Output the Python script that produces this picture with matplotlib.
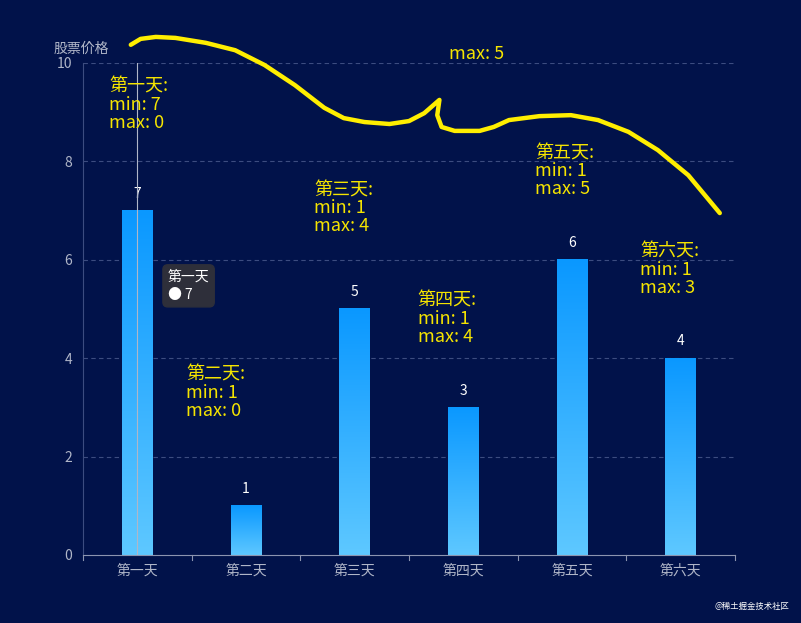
import numpy as np
import matplotlib.pyplot as plt
from matplotlib import font_manager
from matplotlib.colors import LinearSegmentedColormap

cjk = [f.name for f in font_manager.fontManager.ttflist if 'CJK' in f.name]
pref = [n for n in ['Noto Sans CJK SC', 'Noto Sans CJK JP', 'Noto Sans CJK TC'] if n in cjk]
plt.rcParams['font.family'] = 'sans-serif'
plt.rcParams['font.sans-serif'] = pref + cjk[:1] + ['DejaVu Sans']

# === Data ===
days = ["第一天", "第二天", "第三天", "第四天", "第五天", "第六天"]
values = [7, 1, 5, 3, 6, 4]
mins = [7, 1, 1, 1, 1, 1]
maxs = [0, 0, 4, 4, 5, 3]
# annotation anchors (category x, value y)
note_x = [-0.26, 0.45, 1.63, 2.58, 3.66, 4.63]
note_y = [9.7, 3.85, 7.6, 5.35, 8.35, 6.35]
# freehand yellow stroke (category x, value y)
curve_x = [-0.06, 0.03, 0.17, 0.35, 0.63, 0.9, 1.17, 1.45, 1.72, 1.9, 2.09,
           2.32, 2.5, 2.64, 2.78, 2.76, 2.8, 2.92, 3.15, 3.28, 3.42, 3.7,
           3.99, 4.24, 4.52, 4.79, 5.07, 5.36]
curve_y = [10.37, 10.49, 10.53, 10.51, 10.41, 10.26, 9.96, 9.55, 9.09, 8.88,
           8.8, 8.76, 8.82, 8.98, 9.25, 8.94, 8.7, 8.62, 8.62, 8.7, 8.84,
           8.92, 8.94, 8.84, 8.6, 8.23, 7.72, 6.95]

bg = "#01124a"
fig = plt.figure(figsize=(8.01, 6.23), dpi=100, facecolor=bg)
ax = fig.add_axes([83/801, 1-555/623, 652/801, 492/623], facecolor=bg)

# gradient bars
cmap = LinearSegmentedColormap.from_list("bar", ["#5ec8ff", "#0a98ff"])
grad = np.linspace(0, 1, 256).reshape(-1, 1)
w = 0.28
for i, v in enumerate(values):
    ax.imshow(grad, cmap=cmap, origin='lower', aspect='auto',
              extent=(i - w/2, i + w/2, 0, v), zorder=2)
    ax.text(i, v + 0.2, str(v), color='white', ha='center', va='bottom', fontsize=10, zorder=3)

ax.set_xlim(-0.5, 5.5)
ax.set_ylim(0, 10)

# grid
for y in [2, 4, 6, 8, 10]:
    ax.axhline(y, color="#3c4c80", linestyle=(0, (4, 3)), linewidth=0.8, zorder=1)

for s in ['top', 'right']:
    ax.spines[s].set_visible(False)
ax.spines['left'].set_color('#3c4c80')
ax.spines['bottom'].set_color('#8c94b0')
ax.set_yticks([0, 2, 4, 6, 8, 10])
ax.tick_params(axis='y', colors='#b0b6c8', length=0, labelsize=10, pad=8)
ax.set_xticks(range(len(days)))
ax.set_xticklabels(days)
ax.tick_params(axis='x', colors='#b0b6c8', length=0, labelsize=10, pad=6)
for b in np.arange(-0.5, 6, 1):
    ax.plot([b, b], [0, -0.1], color='#8c94b0', lw=0.8, clip_on=False)

ax.text(-0.77, 10.15, "股票价格", color='#b0b6c8', fontsize=10, ha='left', va='bottom')

# hover line + tooltip
ax.plot([0, 0], [0, 10], color='#b0b6c8', lw=0.8, zorder=4)
ax.text(0.28, 5.8, "第一天\n● 7", color='white', fontsize=10, va='top', linespacing=1.4,
        bbox=dict(boxstyle='round,pad=0.35', fc='#2e2f3a', ec='#2e2f3a'), zorder=5)

# annotations
for i in range(len(days)):
    ax.text(note_x[i], note_y[i], f"{days[i]}:\nmin: {mins[i]}\nmax: {maxs[i]}",
            color='#f5e400', fontsize=13, va='top', ha='left', linespacing=1.0, zorder=5)
ax.text(2.87, 10.0, "max: 5", color='#f5e400', fontsize=13, va='bottom', zorder=5)

ax.plot(curve_x, curve_y, color='#ffee00', lw=3.2, clip_on=False, zorder=6,
        solid_capstyle='round', solid_joinstyle='round')

fig.text(0.985, 0.022, "@稀土掘金技术社区", color='white', fontsize=6, ha='right')

fig.savefig("out.png", dpi=100, facecolor=bg)
